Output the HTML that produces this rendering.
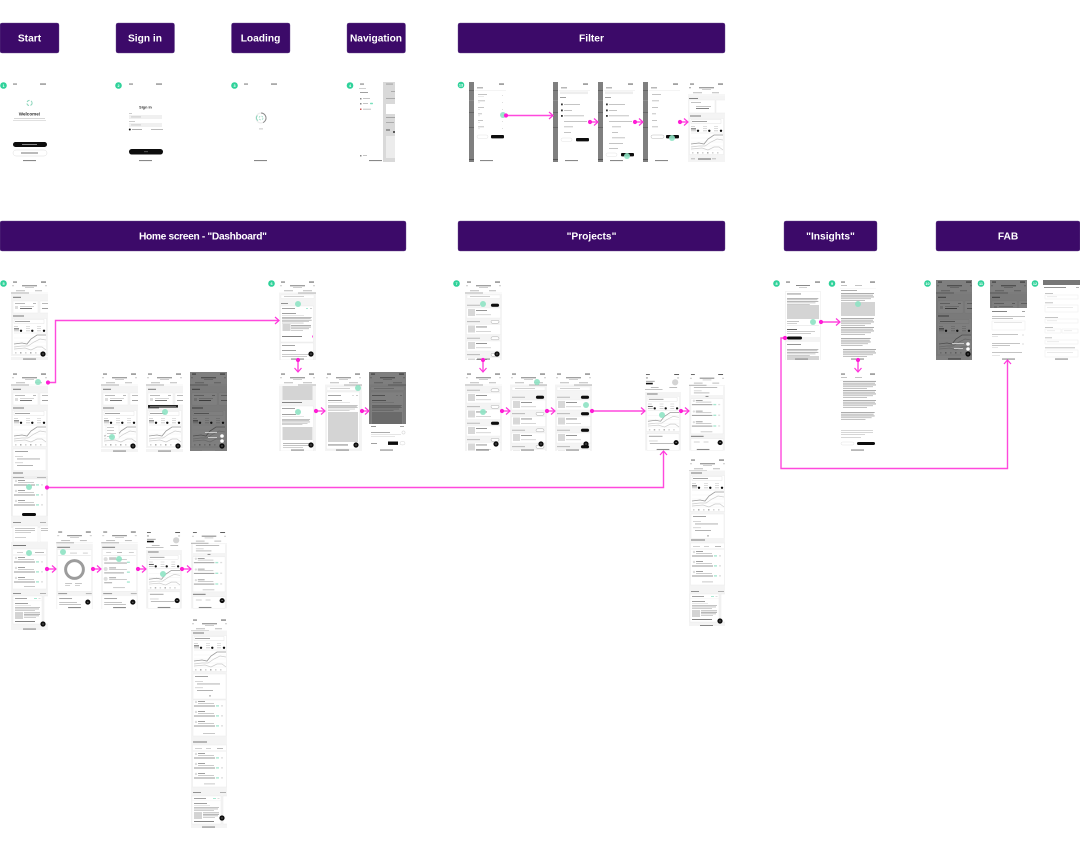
<!DOCTYPE html>
<html><head><meta charset="utf-8"><title>User flow diagram</title>
<style>html,body{margin:0;padding:0;background:#fff}svg{display:block}
text{font-family:"Liberation Sans",sans-serif}</style></head><body>
<svg xmlns="http://www.w3.org/2000/svg" width="1080" height="851" viewBox="0 0 1080 851">
<defs>
<filter id="soft" filterUnits="userSpaceOnUse" x="0" y="0" width="1080" height="851"><feGaussianBlur stdDeviation=".38"/></filter>
<filter id="softc" filterUnits="userSpaceOnUse" x="0" y="0" width="1080" height="851"><feGaussianBlur stdDeviation=".22"/></filter>
<marker id="ah" markerUnits="userSpaceOnUse" markerWidth="9" markerHeight="9" refX="6.5" refY="4.5" orient="auto-start-reverse"><path d="M2.5 1 L6.5 4.5 L2.5 8" fill="none" stroke="#ff36dc" stroke-width="1.2"/></marker>
<marker id="dot" markerUnits="userSpaceOnUse" markerWidth="6" markerHeight="6" refX="3" refY="3"><circle cx="3" cy="3" r="2.1" fill="#ff1fd6"/></marker>

<g id="hd">
<rect x="2" y="1.6" width="4" height=".9" fill="#555"/><rect x="30" y="1.6" width="5" height=".9" fill="#444"/>
<rect x="1" y="5.4" width="2" height=".8" fill="#bbb"/><rect x="34" y="5.4" width="2" height=".8" fill="#bbb"/>
<rect x="11" y="5.2" width="15" height="1.1" fill="#888"/><rect x="14" y="7.2" width="9" height=".7" fill="#bbb"/>
<rect x="5" y="10.4" width="9" height=".8" fill="#aaa"/><rect x="24" y="10.4" width="7" height=".8" fill="#aaa"/>
<rect x="0" y="12.6" width="18" height=".8" fill="#999"/><rect x="18" y="12.8" width="19" height=".4" fill="#e5e5e5"/>
</g>
<g id="hd2">
<rect x="2" y="1.6" width="4" height=".9" fill="#555"/><rect x="30" y="1.6" width="5" height=".9" fill="#444"/>
<rect x="1" y="5.4" width="2" height=".8" fill="#bbb"/><rect x="34" y="5.4" width="2" height=".8" fill="#bbb"/>
<rect x="11" y="5.2" width="15" height="1.1" fill="#888"/><rect x="14" y="7.2" width="9" height=".7" fill="#bbb"/>
<rect x="5" y="10.4" width="9" height=".8" fill="#aaa"/><rect x="24" y="10.4" width="9" height=".8" fill="#aaa"/>
<rect x="19" y="12.6" width="18" height=".8" fill="#999"/><rect x="0" y="12.8" width="19" height=".4" fill="#e5e5e5"/>
</g>
<g id="fab"><circle r="2.6" fill="#0a0a0a"/><rect x="-.8" y="-.2" width="1.6" height=".4" fill="#fff"/></g>
<rect id="ind" width="13" height="1.1" fill="#888"/>

<g id="wn">
<rect width="37" height="20" fill="#f4f4f4"/><rect x="2" y="2.8" width="8" height="1" fill="#777"/>
<rect x="2" y="7" width="25" height="12" fill="#fff" stroke="#e8e8e8" stroke-width=".4"/><rect x="29" y="7" width="10" height="12" fill="#fff" stroke="#e8e8e8" stroke-width=".4"/>
<rect x="4" y="9" width="10" height=".8" fill="#aaa"/><rect x="22" y="9" width="3" height=".7" fill="#999"/>
<rect x="9" y="12" width="14" height=".6" fill="#bbb"/><rect x="9" y="14" width="12" height="1" fill="#777"/><rect x="4" y="12" width="3" height="3" fill="#ddd"/>
<rect x="31" y="9" width="6" height=".8" fill="#aaa"/><rect x="31" y="14" width="6" height=".8" fill="#888"/>
</g>
<g id="snap">
<rect width="37" height="42" fill="#f4f4f4"/><rect x="2" y="1.5" width="11" height="1" fill="#777"/>
<rect x="1.5" y="4.5" width="34" height="36" fill="#fff" stroke="#e8e8e8" stroke-width=".4"/>
<rect x="3" y="5.5" width="30" height="4" fill="#fff" stroke="#ddd" stroke-width=".4"/><rect x="4" y="7" width="15" height=".9" fill="#999"/>
<rect x="3" y="12" width="4" height=".6" fill="#bbb"/><rect x="15" y="12" width="4" height=".6" fill="#ccc"/><rect x="26" y="12" width="4" height=".6" fill="#ccc"/>
<rect x="3" y="14.3" width="5" height="1.1" fill="#666"/><rect x="15" y="14.3" width="4" height=".7" fill="#ccc"/><rect x="26" y="14.3" width="4" height=".7" fill="#ccc"/>
<rect x="3" y="16.5" width="5" height=".7" fill="#aaa"/><rect x="15" y="16.5" width="4" height=".7" fill="#bbb"/><rect x="26" y="16.5" width="4" height=".7" fill="#bbb"/>
<circle cx="10" cy="16.8" r="1.2" fill="#111"/><circle cx="21.3" cy="16.8" r="1.2" fill="#111"/><circle cx="33" cy="16.8" r="1.2" fill="#111"/>
<path d="M3 19H35" stroke="#ddd" stroke-width=".4"/>
<g stroke="#f0f0f0" stroke-width=".4"><path d="M3 24H35M3 28H35M3 32H35M3 36H35"/></g>
<polyline points="3,30 11,29 16,30 20,25 26,21 30,21 35,21" fill="none" stroke="#999" stroke-width=".8"/>
<polyline points="3,33 11,32 17,32 23,28 29,25 35,26" fill="none" stroke="#ccc" stroke-width=".7"/>
<polyline points="3,35 14,34 20,36 26,33 31,33 35,36" fill="none" stroke="#ccc" stroke-width=".7"/>
<g fill="#aaa"><rect x="4" y="38.5" width="1.5" height=".8"/><rect x="9" y="38.5" width="1.5" height=".8" fill="#666"/><rect x="14" y="38.5" width="1.5" height=".8"/><rect x="19" y="38.5" width="1.5" height=".8" fill="#666"/><rect x="24" y="38.5" width="1.5" height=".8"/><rect x="29" y="38.5" width="1.5" height=".8"/></g>
</g>
<g id="conv">
<rect width="37" height="26" fill="#f4f4f4"/><rect x="2" y="1" width="33" height="25" fill="#fff" stroke="#e8e8e8" stroke-width=".4"/>
<rect x="4" y="3" width="13" height=".9" fill="#999"/><rect x="4" y="8" width="8" height=".6" fill="#bbb"/><rect x="6" y="10.5" width="23" height=".9" fill="#aaa"/><rect x="4" y="14.5" width="8" height=".6" fill="#bbb"/><rect x="6" y="17" width="16" height=".9" fill="#aaa"/><rect x="18" y="22.5" width="2" height=".8" fill="#888"/>
</g>
<g id="row"><circle cx="5" cy="1" r="1.2" fill="#ddd"/><rect x="7" y=".2" width="7" height=".8" fill="#888"/><rect x="7" y="2" width="16" height=".6" fill="#aaa"/><rect x="3" y="4.5" width="21" height="1" fill="#999"/><rect x="25" y="4.2" width="3" height="1.4" fill="#a9e8d2"/><rect x="30" y="4.2" width="2" height="1.3" fill="#ddd"/></g>
<g id="res">
<rect width="37" height="48" fill="#f4f4f4"/><rect x="2" y="1.5" width="14" height="1" fill="#777"/>
<rect x="1.5" y="5" width="34" height="42" fill="#fff" stroke="#e8e8e8" stroke-width=".4"/>
<rect x="4" y="8" width="7" height=".7" fill="#bbb"/><rect x="15" y="8" width="5" height=".7" fill="#bbb"/><rect x="26" y="8" width="6" height=".7" fill="#999"/><path d="M2 11H35" stroke="#ddd" stroke-width=".5"/>
<use href="#row" y="13"/><use href="#row" y="23"/><use href="#row" y="33"/><rect x="13" y="43.5" width="11" height=".8" fill="#bbb"/>
</g>
<g id="upd">
<rect x="0" y="0" width="29" height="28" fill="#fff" stroke="#e6e6e6" stroke-width=".4"/>
<rect x="2" y="2" width="12" height=".9" fill="#999"/><rect x="21" y="2" width="3" height="1" fill="#a9e8d2"/><rect x="25.5" y="2" width="2" height="1" fill="#ddd"/>
<path d="M0 4.8H29" stroke="#eee" stroke-width=".4"/>
<rect x="2" y="7" width="13" height=".8" fill="#888"/><rect x="2" y="9" width="16" height=".5" fill="#ccc"/>
<rect x="2" y="11" width="25" height=".7" fill="#aaa"/><rect x="2" y="12.6" width="24" height=".7" fill="#aaa"/><rect x="2" y="14.2" width="20" height=".7" fill="#bbb"/>
<rect x="2" y="16" width="8" height="7" fill="#d4d4d4"/><rect x="11" y="16.5" width="16" height=".7" fill="#999"/><rect x="11" y="18" width="16" height=".7" fill="#999"/><rect x="11" y="19.5" width="15" height=".7" fill="#aaa"/><rect x="11" y="21" width="12" height=".7" fill="#bbb"/>
<rect x="2" y="25" width="20" height=".9" fill="#777"/>
</g>
<g id="prow">
<rect x="2" y="-.2" width="13" height=".8" fill="#aaa"/><rect x="26" y="-1.2" width="8" height="3" rx="1.5" fill="#fff" stroke="#aaa" stroke-width=".5"/>
<rect x="1.5" y="3" width="34" height="10" fill="#fff" stroke="#eaeaea" stroke-width=".4"/><rect x="3" y="4" width="7" height="7" fill="#d8d8d8"/><rect x="11" y="5" width="11" height=".9" fill="#888"/><rect x="11" y="9.5" width="15" height=".6" fill="#bbb"/>
</g>
<rect id="pbtn" x="26" y="-1.2" width="8" height="3" rx="1.5" fill="#0a0a0a"/>
<g id="psearch"><rect y="13.5" width="37" height="7" fill="#f4f4f4"/><rect x="2" y="15" width="33" height="3.4" fill="#fff" stroke="#e4e4e4" stroke-width=".3"/><rect x="5" y="16.3" width="20" height=".7" fill="#bbb"/></g>
<g id="para"><rect width="33" height=".7" fill="#888"/><rect y="1.8" width="32" height=".7" fill="#999"/><rect y="3.6" width="33" height=".7" fill="#888"/><rect y="5.4" width="30" height=".7" fill="#aaa"/><rect y="7.2" width="24" height=".7" fill="#aaa"/></g>
<g id="flt">
<rect width="37" height="80" fill="#fff"/><rect width="5" height="80" fill="#7f7f7f"/>
<rect x="0" y="8" width="5" height=".6" fill="#555"/><rect x="0" y="18" width="5" height=".6" fill="#999"/><rect x="0" y="30" width="5" height=".6" fill="#555"/><rect x="0" y="45" width="5" height=".6" fill="#555"/><rect y="77" x="0" width="5" height="1" fill="#555"/>
<rect x="30" y="1.6" width="5" height=".9" fill="#444"/><rect x="8" y="5.4" width="6" height=".9" fill="#888"/><path d="M6 8.4H37" stroke="#e4e4e4" stroke-width=".4"/>
</g>

<symbol id="s-home" viewBox="0 0 37 80"><rect width="37" height="80" fill="#fff"/><use href="#hd"/><use href="#wn" y="14"/><use href="#snap" y="34"/><use href="#fab" x="32" y="74"/><rect x="0" y="77" width="37" height="3" fill="#f4f4f4"/><use href="#ind" x="12" y="78.5"/></symbol>

<symbol id="s-long" viewBox="0 0 37 258">
<rect width="37" height="258" fill="#fff"/><use href="#hd"/><use href="#wn" y="14"/><use href="#snap" y="34"/><use href="#conv" y="76"/>
<rect y="98" width="37" height="58" fill="#f4f4f4"/><rect x="2" y="100.5" width="10" height="1" fill="#777"/><rect x="0" y="104" width="37" height="40" fill="#eee"/><rect x="2" y="105" width="11" height=".8" fill="#999"/><rect x="26" y="105" width="9" height=".8" fill="#aaa"/>
<rect x="1.5" y="107" width="34" height="37" fill="#fff" stroke="#e8e8e8" stroke-width=".4"/><use href="#row" y="108"/><use href="#row" y="118"/><use href="#row" y="128"/>
<rect x="11" y="141" width="14" height="3" rx="1.5" fill="#0a0a0a"/>
<rect x="2" y="150" width="8" height=".9" fill="#888"/><rect x="29" y="150" width="6" height=".9" fill="#aaa"/>
<rect x="2" y="154" width="25" height="16" fill="#fff" stroke="#e6e6e6" stroke-width=".4"/><rect x="4" y="156" width="20" height=".7" fill="#aaa"/><rect x="4" y="158" width="20" height=".7" fill="#aaa"/><rect x="4" y="160" width="16" height=".7" fill="#bbb"/><rect x="4" y="165" width="11" height=".7" fill="#bbb"/>
<rect x="29" y="154" width="10" height="16" fill="#fff" stroke="#e6e6e6" stroke-width=".4"/><rect x="30" y="156" width="7" height=".7" fill="#aaa"/><rect x="30" y="158" width="7" height=".7" fill="#aaa"/>
<rect y="170" width="37" height="88" fill="#f4f4f4"/>
<rect x="2" y="173" width="13" height="1" fill="#777"/><rect x="1.5" y="177" width="34" height="40" fill="#fff" stroke="#e8e8e8" stroke-width=".4"/>
<rect x="6" y="180" width="6" height=".7" fill="#bbb"/><rect x="24" y="180" width="9" height=".7" fill="#999"/><path d="M2 183H35" stroke="#ddd" stroke-width=".5"/><use href="#row" y="185"/><use href="#row" y="195"/><use href="#row" y="205"/><rect x="13" y="214" width="11" height=".8" fill="#bbb"/>
<rect x="2" y="221" width="8" height=".9" fill="#888"/><rect x="29" y="221" width="6" height=".9" fill="#aaa"/>
<use href="#upd" x="2" y="224"/><rect x="33" y="224" width="6" height="28" fill="#fff" stroke="#e6e6e6" stroke-width=".4"/>
<use href="#fab" x="32" y="252"/><use href="#ind" x="12" y="256.5"/>
</symbol>

<symbol id="s-ring" viewBox="0 0 37 80"><rect width="37" height="80" fill="#fff"/><use href="#hd"/><rect y="14" width="37" height="66" fill="#f4f4f4"/><rect x="1" y="17" width="13" height="1" fill="#777"/><rect x="1" y="20" width="35" height="42" fill="#fff" stroke="#e8e8e8" stroke-width=".4"/>
<rect x="14" y="23" width="7" height=".7" fill="#bbb"/><rect x="27" y="23" width="5" height=".7" fill="#bbb"/><path d="M2 26H35" stroke="#ddd" stroke-width=".5"/>
<circle cx="18.5" cy="40" r="9" fill="none" stroke="#9c9c9c" stroke-width="3"/><rect x="9" y="54" width="7" height=".7" fill="#aaa"/><rect x="19" y="54" width="7" height=".7" fill="#aaa"/><rect x="9" y="56" width="5" height=".7" fill="#bbb"/><rect x="19" y="56" width="5" height=".7" fill="#bbb"/>
<rect x="2" y="64" width="9" height=".9" fill="#888"/><rect x="30" y="64" width="6" height=".9" fill="#aaa"/><rect x="1" y="67" width="35" height="13" fill="#fff"/><rect x="3" y="69" width="13" height=".9" fill="#999"/><rect x="3" y="73" width="18" height=".7" fill="#aaa"/><rect x="3" y="75" width="22" height=".7" fill="#aaa"/><use href="#fab" x="32" y="73"/><use href="#ind" x="12" y="78"/></symbol>

<symbol id="s-rows" viewBox="0 0 37 80"><rect width="37" height="80" fill="#fff"/><use href="#hd"/><rect y="14" width="37" height="66" fill="#f4f4f4"/><rect x="1" y="17" width="13" height="1" fill="#777"/><rect x="1" y="20" width="35" height="42" fill="#fff" stroke="#e8e8e8" stroke-width=".4"/>
<rect x="5" y="22.5" width="5" height=".7" fill="#bbb"/><rect x="16" y="22.5" width="5" height=".7" fill="#999"/><rect x="28" y="22.5" width="5" height=".7" fill="#bbb"/><path d="M2 26H35" stroke="#ddd" stroke-width=".5"/>
<g transform="translate(0,28)"><circle cx="4.5" cy="1.5" r="2" fill="#ddd"/><rect x="8" y="0" width="7" height=".8" fill="#888"/><rect x="8" y="1.8" width="18" height=".6" fill="#aaa"/><rect x="3" y="5" width="23" height=".9" fill="#999"/><rect x="26" y="4" width="3" height="1.4" fill="#a9e8d2"/></g>
<g transform="translate(0,38)"><circle cx="4.5" cy="1.5" r="2" fill="#ddd"/><rect x="8" y="0" width="7" height=".8" fill="#888"/><rect x="8" y="1.8" width="18" height=".6" fill="#aaa"/><rect x="3" y="5" width="20" height=".9" fill="#999"/><rect x="26" y="4" width="3" height="1.4" fill="#a9e8d2"/></g>
<g transform="translate(0,48)"><circle cx="4.5" cy="1.5" r="2" fill="#ddd"/><rect x="8" y="0" width="7" height=".8" fill="#888"/><rect x="8" y="1.8" width="18" height=".6" fill="#aaa"/><rect x="3" y="5" width="8" height=".9" fill="#999"/><rect x="26" y="4" width="3" height="1.4" fill="#a9e8d2"/></g>
<rect x="12" y="58" width="12" height=".8" fill="#bbb"/>
<rect x="2" y="64" width="9" height=".9" fill="#888"/><rect x="30" y="64" width="6" height=".9" fill="#aaa"/><rect x="1" y="67" width="35" height="13" fill="#fff"/><rect x="3" y="69" width="13" height=".9" fill="#999"/><rect x="3" y="73" width="18" height=".7" fill="#aaa"/><rect x="3" y="75" width="22" height=".7" fill="#aaa"/><use href="#fab" x="32" y="73"/><use href="#ind" x="12" y="78"/></symbol>

<symbol id="s-prof" viewBox="0 0 37 80"><rect width="37" height="80" fill="#fff"/><rect x="1" y="1.6" width="4" height=".9" fill="#555"/><rect x="30" y="1.6" width="5" height=".9" fill="#444"/><rect x="1" y="5" width="2" height="1" fill="#888"/><rect x="33" y="5" width="2" height="1" fill="#bbb"/>
<rect x="1" y="8.5" width="9" height=".9" fill="#999"/><rect x="1" y="10.5" width="7" height="1.6" fill="#0a0a0a"/><circle cx="31" cy="10" r="3.2" fill="#d4d4d4"/>
<rect x="6" y="15" width="8" height=".8" fill="#aaa"/><rect x="25" y="15" width="8" height=".8" fill="#aaa"/><rect x="0" y="17" width="18" height=".6" fill="#999"/>
<use href="#snap" y="20"/><rect y="62" width="37" height="18" fill="#f4f4f4"/><rect x="2" y="63" width="33" height="17" fill="#fff" stroke="#e8e8e8" stroke-width=".4"/><rect x="4" y="65" width="14" height=".9" fill="#999"/><rect x="4" y="70" width="9" height=".6" fill="#bbb"/><rect x="5" y="72.5" width="24" height=".8" fill="#aaa"/><use href="#fab" x="32" y="72"/><use href="#ind" x="12" y="78.5"/></symbol>

<symbol id="s-cont" viewBox="0 0 37 80"><rect width="37" height="80" fill="#fff"/><use href="#hd"/><rect y="14" width="37" height="66" fill="#f4f4f4"/><rect x="2" y="14" width="33" height="9" fill="#fff"/><rect x="5" y="15" width="24" height=".8" fill="#aaa"/><rect x="5" y="18.5" width="8" height=".6" fill="#bbb"/><rect x="5" y="20.5" width="16" height=".8" fill="#aaa"/><rect x="17" y="24" width="3" height="1" fill="#888"/>
<rect x="2" y="27" width="33" height="36" fill="#fff" stroke="#e8e8e8" stroke-width=".4"/><use href="#row" y="28"/><use href="#row" y="39"/><use href="#row" y="50"/><rect x="12" y="60.5" width="12" height=".8" fill="#bbb"/>
<rect x="2" y="65" width="13" height="1" fill="#777"/><rect x="2" y="68" width="33" height="12" fill="#fff" stroke="#e8e8e8" stroke-width=".4"/><rect x="5" y="71" width="6" height=".7" fill="#bbb"/><rect x="15" y="71" width="5" height=".7" fill="#bbb"/><use href="#fab" x="32" y="72"/><use href="#ind" x="8" y="78.5"/></symbol>

<symbol id="s-upd1" viewBox="0 0 37 80"><rect width="37" height="80" fill="#fff"/><use href="#hd2"/><rect y="14" width="37" height="66" fill="#f4f4f4"/><use href="#psearch"/><rect x="2" y="23" width="7" height=".9" fill="#888"/><rect x="1.5" y="26" width="33" height="36" fill="#fff" stroke="#e6e6e6" stroke-width=".4"/>
<rect x="3" y="28" width="13" height=".9" fill="#999"/><rect x="27" y="28" width="2" height="1" fill="#a9e8d2"/><rect x="31" y="28" width="2" height="1" fill="#ccc"/><rect x="3" y="33" width="14" height=".8" fill="#888"/><rect x="3" y="35" width="22" height=".5" fill="#ccc"/>
<use href="#para" transform="translate(3,37) scale(.9,.8)"/>
<rect x="3.5" y="44" width="8" height="7" fill="#d4d4d4"/><rect x="12" y="45" width="20" height=".7" fill="#888"/><rect x="12" y="46.7" width="20" height=".7" fill="#999"/><rect x="12" y="48.4" width="18" height=".7" fill="#aaa"/><rect x="12" y="50" width="12" height=".7" fill="#bbb"/>
<rect x="3" y="56" width="20" height=".9" fill="#777"/><rect x="33" y="55.5" width="1" height="2" fill="#ff5fe0"/>
<rect x="1.5" y="63" width="33" height="17" fill="#fff" stroke="#e6e6e6" stroke-width=".4"/><rect x="3" y="65" width="13" height=".9" fill="#999"/><rect x="3" y="70" width="14" height=".8" fill="#888"/><rect x="3" y="74" width="28" height=".6" fill="#aaa"/><rect x="3" y="76" width="25" height=".6" fill="#aaa"/><use href="#fab" x="32" y="74"/><use href="#ind" x="12" y="78.5"/></symbol>

<symbol id="s-upd2" viewBox="0 0 37 79"><rect width="37" height="79" fill="#fff"/><use href="#hd2"/><rect y="14" width="37" height="65" fill="#f4f4f4"/><rect x="3.5" y="14" width="30" height="14" fill="#d4d4d4"/><rect x="3" y="30" width="20" height=".9" fill="#777"/><rect x="1.5" y="34" width="33" height="45" fill="#fff" stroke="#e6e6e6" stroke-width=".4"/><rect x="3" y="36" width="13" height=".9" fill="#999"/><rect x="3" y="42" width="14" height=".8" fill="#888"/><rect x="3" y="44" width="22" height=".5" fill="#ccc"/><use href="#para" transform="translate(3,47) scale(.85,.75)"/><rect x="3.5" y="55" width="30" height="13" fill="#d4d4d4"/><rect x="4" y="71" width="26" height=".7" fill="#999"/><rect x="4" y="73" width="26" height=".7" fill="#aaa"/><rect x="4" y="75" width="20" height=".7" fill="#bbb"/><use href="#fab" x="32" y="73"/><use href="#ind" x="12" y="77.5"/></symbol>

<symbol id="s-upd3" viewBox="0 0 37 79"><rect width="37" height="79" fill="#fff"/><use href="#hd2"/><rect y="14" width="37" height="65" fill="#f4f4f4"/><use href="#psearch"/><rect x="1.5" y="20" width="33" height="57" fill="#fff" stroke="#e6e6e6" stroke-width=".4"/><rect x="3" y="23" width="13" height=".9" fill="#999"/><rect x="27" y="23" width="2" height="1" fill="#ddd"/><rect x="31" y="23" width="2" height="1" fill="#ccc"/><rect x="3" y="28" width="14" height=".8" fill="#888"/><rect x="3" y="30" width="22" height=".5" fill="#ccc"/><use href="#para" transform="translate(3,33) scale(.9,.7)"/>
<rect x="3" y="40" width="30" height="30" fill="#d4d4d4"/><rect x="3" y="72.5" width="20" height=".9" fill="#777"/><use href="#fab" x="31" y="73"/><use href="#ind" x="11" y="77.5"/></symbol>

<symbol id="s-upddark" viewBox="0 0 37 79"><use href="#s-upd3" width="37" height="79"/><rect width="37" height="52" fill="#000" opacity=".5"/><rect y="52" width="37" height="27" fill="#fff"/><rect x="2" y="54" width="5" height=".9" fill="#888"/><rect x="31" y="54" width="4" height=".9" fill="#999"/><rect x="2" y="60" width="19" height=".7" fill="#888"/><rect x="33" y="59" width="3" height="3" rx="1" fill="#fff" stroke="#ccc" stroke-width=".5"/><rect x="2" y="62.5" width="30" height=".5" fill="#ccc"/><rect x="2" y="64.5" width="24" height=".5" fill="#ccc"/><rect x="2" y="71" width="6" height=".8" fill="#888"/><rect x="19" y="69.5" width="10" height="3.4" fill="#0a0a0a"/><rect x="31" y="69.5" width="5" height="3.4" rx="1.7" fill="#fff" stroke="#ccc" stroke-width=".4"/><use href="#ind" x="11" y="77.5"/></symbol>

<symbol id="s-dark" viewBox="0 0 37 79"><rect width="37" height="79" fill="#fff"/><use href="#hd"/><use href="#wn" y="14"/><use href="#snap" y="34"/><rect width="37" height="79" fill="#000" opacity=".5"/><rect x="15" y="60" width="12" height=".8" fill="#ddd"/><rect x="18" y="65" width="9" height=".8" fill="#ddd"/><circle cx="32" cy="64" r="1.8" fill="#fff"/><circle cx="32" cy="69" r="1.8" fill="#fff"/><use href="#fab" x="32" y="74"/><use href="#ind" x="12" y="78"/></symbol>

<symbol id="s-proj" viewBox="0 0 37 80"><rect width="37" height="80" fill="#fff"/><use href="#hd"/><rect y="14" width="37" height="66" fill="#f4f4f4"/><rect x="2" y="15" width="33" height="3.4" fill="#fff" stroke="#e4e4e4" stroke-width=".3"/><rect x="5" y="16.3" width="20" height=".7" fill="#bbb"/>
<use href="#prow" x="0" y="25"/><use href="#pbtn" y="25"/><use href="#prow" y="41.5"/><use href="#prow" y="58"/><use href="#prow" y="74.5"/><use href="#fab" x="32" y="74"/><use href="#ind" x="12" y="78.5"/></symbol>
<symbol id="s-proj2" viewBox="0 0 37 79"><rect width="37" height="79" fill="#fff"/><use href="#hd"/><rect y="14" width="37" height="65" fill="#f4f4f4"/><use href="#prow" y="18"/><use href="#prow" y="34.5"/><use href="#prow" y="51"/><use href="#pbtn" y="51"/><use href="#prow" y="67.5"/><use href="#fab" x="31" y="72"/><use href="#ind" x="11" y="77.5"/></symbol>
<symbol id="s-proj3" viewBox="0 0 37 79"><rect width="37" height="79" fill="#fff"/><use href="#hd2"/><rect y="14" width="37" height="65" fill="#f4f4f4"/><use href="#psearch"/><use href="#prow" y="25"/><use href="#pbtn" y="25"/><use href="#prow" y="41.5"/><use href="#prow" y="58"/><use href="#prow" y="74.5"/><use href="#fab" x="31" y="72"/><use href="#ind" x="11" y="77.5"/></symbol>
<symbol id="s-proj4" viewBox="0 0 37 79"><rect width="37" height="79" fill="#fff"/><use href="#hd2"/><rect y="14" width="37" height="65" fill="#f4f4f4"/><use href="#psearch"/><use href="#prow" y="25"/><use href="#pbtn" y="25"/><use href="#prow" y="41.5"/><use href="#pbtn" y="41.5"/><use href="#prow" y="58"/><use href="#pbtn" y="58"/><use href="#prow" y="74.5"/><use href="#pbtn" y="74.5"/><use href="#fab" x="31" y="72"/><use href="#ind" x="11" y="77.5"/></symbol>

<symbol id="s-long2" viewBox="0 0 36 168"><rect width="36" height="168" fill="#fff"/><use href="#hd"/><rect y="14" width="36" height="154" fill="#f4f4f4"/><use href="#snap" y="13"/><use href="#conv" y="55"/><use href="#res" y="80"/>
<rect x="2" y="133" width="8" height=".9" fill="#888"/><rect x="29" y="133" width="6" height=".9" fill="#aaa"/><use href="#upd" x="1" y="136"/><rect x="32" y="136" width="6" height="28" fill="#fff" stroke="#e6e6e6" stroke-width=".4"/><use href="#fab" x="31" y="163"/><use href="#ind" x="11" y="167"/></symbol>
<symbol id="s-long3" viewBox="0 0 36 210"><rect width="36" height="210" fill="#fff"/><use href="#hd"/><rect y="14" width="36" height="196" fill="#f4f4f4"/><use href="#snap" y="13"/><use href="#conv" y="55"/>
<rect x="2" y="82" width="33" height="36" fill="#fff" stroke="#e8e8e8" stroke-width=".4"/><use href="#row" y="83"/><use href="#row" y="93"/><use href="#row" y="103"/><rect x="12" y="115" width="12" height=".8" fill="#bbb"/><use href="#res" y="122"/>
<rect x="2" y="174" width="8" height=".9" fill="#888"/><rect x="29" y="174" width="6" height=".9" fill="#aaa"/><use href="#upd" x="1" y="178"/><rect x="32" y="178" width="6" height="28" fill="#fff" stroke="#e6e6e6" stroke-width=".4"/><use href="#fab" x="31" y="200"/><use href="#ind" x="11" y="208.5"/></symbol>

<symbol id="s-ins1" viewBox="0 0 36 80"><rect width="36" height="80" fill="#fff"/><rect x="1" y="1.6" width="4" height=".9" fill="#555"/><rect x="30" y="1.6" width="5" height=".9" fill="#444"/><rect x="11" y="5" width="14" height="1" fill="#888"/><rect x="14" y="7" width="8" height=".7" fill="#bbb"/>
<rect y="11" width="36" height="69" fill="#f4f4f4"/><rect x="1" y="12" width="34" height="45" fill="#fff"/><rect x="2" y="13.5" width="14" height=".9" fill="#888"/><use href="#para" transform="translate(2,18) scale(.95,.85)"/><rect x="2" y="25" width="32" height="14" fill="#d4d4d4"/><rect x="2" y="41" width="12" height=".7" fill="#aaa"/><rect x="2" y="43" width="10" height=".7" fill="#bbb"/><rect x="2" y="45.5" width="32" height=".5" fill="#ddd"/><rect x="2" y="49" width="10" height=".9" fill="#555"/><rect x="2" y="51" width="28" height=".6" fill="#aaa"/><rect x="2" y="53" width="24" height=".6" fill="#aaa"/>
<rect x="2" y="56.5" width="15" height="3" rx="1.5" fill="#0a0a0a"/><rect x="1" y="62" width="34" height="18" fill="#fff"/><rect x="2" y="64" width="14" height=".9" fill="#888"/><use href="#para" transform="translate(2,69) scale(.95,.85)"/><rect x="2" y="76" width="32" height="4" fill="#d4d4d4"/><use href="#ind" x="10" y="78.5"/></symbol>
<symbol id="s-ins2" viewBox="0 0 36 80"><rect width="36" height="80" fill="#fff"/><rect x="1" y="1.6" width="4" height=".9" fill="#555"/><rect x="30" y="1.6" width="5" height=".9" fill="#444"/><rect x="1" y="5" width="6" height=".7" fill="#aaa"/><rect x="15" y="5" width="7" height=".7" fill="#aaa"/><rect y="8" width="36" height=".4" fill="#eee"/><rect x="1" y="10" width="16" height=".8" fill="#999"/><use href="#para" transform="translate(1,13)"/><rect x="1" y="22" width="34" height="14" fill="#d4d4d4"/><use href="#para" transform="translate(1,38)"/><use href="#para" transform="translate(1,47)"/><use href="#para" transform="translate(1,58) scale(.9,1)"/><use href="#para" transform="translate(3,69)"/><use href="#ind" x="11" y="78.5"/></symbol>
<symbol id="s-ins3" viewBox="0 0 36 79"><rect width="36" height="79" fill="#fff"/><rect x="1" y="1.6" width="4" height=".9" fill="#555"/><rect x="30" y="1.6" width="5" height=".9" fill="#444"/><rect x="1" y="5" width="6" height=".7" fill="#aaa"/><rect x="15" y="5" width="7" height=".7" fill="#aaa"/><rect y="8" width="36" height=".4" fill="#eee"/>
<use href="#para" transform="translate(3,9)"/><use href="#para" transform="translate(3,18)"/><use href="#para" transform="translate(3,28)"/><use href="#para" transform="translate(1,40) scale(1.02,1)"/><rect x="1" y="58" width="32" height=".6" fill="#bbb"/><rect x="1" y="60" width="32" height=".6" fill="#bbb"/><rect x="1" y="62" width="24" height=".6" fill="#bbb"/><rect x="1" y="65" width="20" height=".6" fill="#bbb"/><rect x="1" y="70" width="13" height="3" rx="1.5" fill="#fff" stroke="#ddd" stroke-width=".4"/><rect x="17" y="70" width="18" height="3" rx="1.5" fill="#0a0a0a"/><use href="#ind" x="11" y="77.5"/></symbol>

<symbol id="s-fab1" viewBox="0 0 36 80"><rect width="36" height="80" fill="#fff"/><use href="#hd"/><use href="#wn" y="14"/><use href="#snap" y="34"/><rect width="36" height="80" fill="#000" opacity=".5"/><rect x="16" y="63" width="12" height=".8" fill="#ddd"/><rect x="18" y="68" width="9" height=".8" fill="#ddd"/><circle cx="32" cy="64" r="1.8" fill="#fff"/><circle cx="32" cy="69" r="1.8" fill="#fff"/><use href="#fab" x="32" y="74"/><rect x="12" y="78.5" width="13" height=".9" fill="#333"/></symbol>
<symbol id="s-fab2" viewBox="0 0 37 80"><rect width="37" height="80" fill="#fff"/><use href="#hd"/><use href="#wn" y="14"/><rect width="37" height="28" fill="#000" opacity=".5"/><rect y="28" width="37" height="52" fill="#fff"/><rect x="2" y="31" width="15" height=".9" fill="#777"/><rect x="32" y="31" width="3" height=".9" fill="#999"/><rect x="2" y="36" width="33" height=".7" fill="#aaa"/><rect x="2" y="38" width="21" height=".7" fill="#aaa"/><rect x="2" y="41" width="33" height="9" fill="#fff" stroke="#e8e8e8" stroke-width=".4"/><rect x="4" y="42" width="28" height=".5" fill="#ccc"/><rect x="2" y="54" width="26" height=".7" fill="#aaa"/><rect x="2" y="56" width="6" height=".5" fill="#ccc"/><rect x="32" y="54" width="2" height="2" fill="#eee"/><rect x="2" y="63" width="28" height=".7" fill="#aaa"/><rect x="2" y="65" width="18" height=".7" fill="#aaa"/><rect x="2" y="67" width="6" height=".5" fill="#ccc"/><rect x="32" y="63" width="2" height="2" fill="#eee"/><rect x="2" y="72" width="30" height=".7" fill="#aaa"/><rect x="2" y="75" width="8" height=".5" fill="#ccc"/><use href="#ind" x="12" y="78.5"/></symbol>
<symbol id="s-fab3" viewBox="0 0 37 80"><rect width="37" height="80" fill="#fff"/><rect width="37" height="5" fill="#777"/><rect x="1" y="7" width="22" height=".9" fill="#888"/><rect x="33" y="7" width="3" height=".9" fill="#aaa"/><g fill="none" stroke="#e8e8e8" stroke-width=".4"><rect x="2" y="15" width="33" height="4"/><rect x="2" y="25" width="33" height="7"/><rect x="2" y="39" width="33" height="4"/><rect x="2" y="49" width="16" height="4"/><rect x="19" y="49" width="16" height="4"/><rect x="2" y="60" width="33" height="4"/><rect x="2" y="70" width="33" height="7"/></g><g fill="#aaa"><rect x="2" y="13" width="8" height=".7"/><rect x="2" y="22.5" width="8" height=".7"/><rect x="2" y="37" width="13" height=".7"/><rect x="2" y="47" width="8" height=".7"/><rect x="2" y="57.5" width="7" height=".7"/><rect x="2" y="67.5" width="30" height=".7"/></g><g fill="#ddd"><rect x="4" y="16.5" width="10" height=".6"/><rect x="4" y="27" width="26" height=".6"/><rect x="4" y="40.5" width="10" height=".6"/><rect x="4" y="50.5" width="8" height=".6"/><rect x="21" y="50.5" width="8" height=".6"/><rect x="4" y="61.5" width="12" height=".6"/><rect x="4" y="72" width="26" height=".6"/></g><use href="#ind" x="12" y="78.5"/></symbol>

<symbol id="s-start" viewBox="0 0 37 80"><rect width="37" height="80" fill="#fff"/><rect x="2" y="1.6" width="4" height=".9" fill="#666"/><rect x="29" y="1.6" width="6" height=".9" fill="#555"/><circle cx="18.5" cy="21" r="2.6" fill="none" stroke="#8ed6bc" stroke-width="1" stroke-dasharray="3 1.5"/><text x="18.5" y="33.5" text-anchor="middle" font-size="4.6" font-weight="bold" fill="#333">Welcome!</text><rect x="3" y="36" width="31" height=".6" fill="#bbb"/><rect x="2" y="38" width="33" height=".6" fill="#ccc"/><rect x="2" y="60" width="34" height="5" rx="2.5" fill="#0a0a0a"/><rect x="11" y="62" width="15" height="1" fill="#888"/><rect x="2" y="68" width="34" height="6" rx="3" fill="#fff" stroke="#ddd" stroke-width=".5"/><rect x="10" y="70.5" width="17" height="1" fill="#777"/><use href="#ind" x="12" y="78"/></symbol>
<symbol id="s-sign" viewBox="0 0 37 80"><rect width="37" height="80" fill="#fff"/><rect x="2" y="1.6" width="4" height=".9" fill="#666"/><rect x="29" y="1.6" width="6" height=".9" fill="#555"/><text x="18.5" y="26.5" text-anchor="middle" font-size="3.8" font-weight="bold" fill="#333">Sign in</text><rect x="2" y="31" width="3" height=".6" fill="#aaa"/><rect x="2" y="33" width="33" height="4" fill="#f0f0f0"/><rect x="4" y="34.6" width="10" height=".7" fill="#bbb"/><rect x="2" y="39" width="6" height=".6" fill="#aaa"/><rect x="2" y="41" width="33" height="4" fill="#f0f0f0"/><rect x="4" y="42.6" width="10" height=".7" fill="#bbb"/><circle cx="2.8" cy="47.5" r="1" fill="#111"/><rect x="5" y="47" width="10" height=".8" fill="#999"/><rect x="24" y="47" width="12" height=".8" fill="#aaa"/><rect x="2" y="67" width="34" height="5.5" rx="2.7" fill="#0a0a0a"/><rect x="17" y="69.5" width="4" height=".6" fill="#888"/><use href="#ind" x="12" y="78"/></symbol>
<symbol id="s-load" viewBox="0 0 37 80"><rect width="37" height="80" fill="#fff"/><rect x="2" y="1.6" width="4" height=".9" fill="#666"/><rect x="29" y="1.6" width="6" height=".9" fill="#555"/><circle cx="19" cy="36" r="5" fill="none" stroke="#ececec" stroke-width="1"/><path d="M19 31 A5 5 0 0 1 21 40.6" fill="none" stroke="#888" stroke-width="1"/><path d="M16 38.5 A3 3 0 0 1 15.5 33.5" fill="none" stroke="#8ed6bc" stroke-width="1"/><circle cx="19" cy="36" r="2" fill="none" stroke="#8ed6bc" stroke-width=".7" stroke-dasharray="2 1.2"/><rect x="17" y="46.5" width="4" height=".8" fill="#bbb"/><use href="#ind" x="12" y="78"/></symbol>
<symbol id="s-nav" viewBox="0 0 37 80"><rect width="37" height="80" fill="#fff"/><rect x="2" y="1.6" width="4" height=".9" fill="#666"/><rect x="1" y="6" width="7" height=".7" fill="#bbb"/><rect x="2" y="10" width="8" height=".8" fill="#888"/><rect x="2" y="16" width="1.5" height="1.5" fill="#888"/><rect x="5" y="16.3" width="7" height=".7" fill="#aaa"/><rect x="2" y="21" width="1.5" height="1.5" fill="#888"/><rect x="5" y="21.3" width="5" height=".7" fill="#aaa"/><rect x="12" y="20.8" width="3" height="1.5" rx=".7" fill="#7be0bd"/><rect x="2" y="26.5" width="1.5" height="1.5" fill="#c55"/><rect x="5" y="26.8" width="8" height=".7" fill="#aaa"/><rect x="2" y="73" width="1.5" height="1.5" fill="#888"/><rect x="5" y="73.3" width="4" height=".7" fill="#aaa"/>
<rect x="25" width="12" height="80" fill="#d9d9d9"/><g fill="#999"><rect x="28" y="1.6" width="7" height=".9"/><rect x="33" y="9" width="4" height=".7"/><rect x="28" y="16" width="9" height=".7"/><rect x="28" y="35" width="9" height=".8"/><rect x="28" y="40" width="8" height=".7"/><rect x="28" y="47" width="4" height="2"/></g><g fill="#fff"><rect x="28" y="22" width="9" height="10"/><rect x="28" y="54" width="9" height="22" opacity=".5"/></g><circle cx="36" cy="50" r="1" fill="#333"/><use href="#ind" x="11" y="78"/></symbol>

<symbol id="f1" viewBox="0 0 37 80"><use href="#flt"/><g fill="#aaa"><rect x="9" y="12" width="9" height=".7"/><rect x="9" y="18.5" width="7" height=".7"/><rect x="9" y="25" width="6" height=".7"/><rect x="9" y="31.5" width="4" height=".7"/><rect x="9" y="38" width="5" height=".7"/><rect x="9" y="44.5" width="6" height=".7"/></g><g fill="#ddd"><rect x="9" y="14" width="6" height=".6"/><rect x="9" y="20.5" width="2" height=".6"/><rect x="9" y="27" width="2" height=".6"/><rect x="9" y="33.5" width="2" height=".6"/><rect x="9" y="40" width="2" height=".6"/><rect x="9" y="46.5" width="2" height=".6"/><rect x="33" y="13" width="1" height="1"/><rect x="33" y="20" width="1" height="1"/><rect x="33" y="27" width="1" height="1"/><rect x="33" y="39" width="1" height="1"/><rect x="33" y="46" width="1" height="1"/></g><rect x="8" y="53" width="11" height="3.4" rx="1.7" fill="#fff" stroke="#ddd" stroke-width=".4"/><rect x="22" y="53" width="13" height="3.4" rx="1" fill="#0a0a0a"/><use href="#ind" x="11" y="78"/></symbol>
<symbol id="f2" viewBox="0 0 37 80"><use href="#flt"/><rect x="7" y="9.5" width="28" height="2.6" fill="#eee"/><rect x="7" y="15" width="6" height=".7" fill="#777"/><g fill="#333"><rect x="8" y="21.5" width="1.8" height="1.8"/><rect x="8" y="27.5" width="1.8" height="1.8"/><rect x="8" y="33" width="1.8" height="1.8"/></g><g fill="#aaa"><rect x="11" y="22" width="16" height=".7"/><rect x="11" y="28" width="8" height=".7"/><rect x="11" y="33.5" width="20" height=".7"/><rect x="11" y="39" width="23" height=".7"/><rect x="11" y="44.5" width="9" height=".7"/><rect x="11" y="50" width="7" height=".7"/></g><rect x="8" y="56" width="11" height="3.4" rx="1.7" fill="#fff" stroke="#ddd" stroke-width=".4"/><rect x="23" y="56" width="13" height="3.4" rx="1" fill="#0a0a0a"/><use href="#ind" x="12" y="78"/></symbol>
<symbol id="f3" viewBox="0 0 37 80"><use href="#flt"/><rect x="7" y="9.5" width="28" height="2.6" fill="#eee"/><rect x="7" y="15" width="6" height=".7" fill="#777"/><g fill="#333"><rect x="8" y="21.5" width="1.8" height="1.8"/><rect x="8" y="27.5" width="1.8" height="1.8"/><rect x="8" y="33" width="1.8" height="1.8"/></g><g fill="#aaa"><rect x="11" y="22" width="16" height=".7"/><rect x="11" y="28" width="8" height=".7"/><rect x="11" y="33.5" width="20" height=".7"/><rect x="11" y="39" width="23" height=".7"/><rect x="14" y="44.5" width="9" height=".7"/><rect x="14" y="50" width="6" height=".7"/><rect x="14" y="55.5" width="13" height=".7"/><rect x="11" y="61" width="14" height=".7"/><rect x="11" y="66" width="9" height=".7"/></g><rect x="8" y="71" width="11" height="3.4" rx="1.7" fill="#fff" stroke="#ddd" stroke-width=".4"/><rect x="23" y="71" width="13" height="3.4" rx="1" fill="#0a0a0a"/><use href="#ind" x="12" y="78"/></symbol>
<symbol id="f4" viewBox="0 0 37 80"><use href="#flt"/><g fill="#aaa"><rect x="9" y="12" width="9" height=".7"/><rect x="9" y="18.5" width="7" height=".7"/><rect x="9" y="25" width="6" height=".7"/><rect x="9" y="31.5" width="4" height=".7"/><rect x="9" y="38" width="5" height=".7"/><rect x="9" y="44.5" width="6" height=".7"/></g><rect x="8" y="53" width="13" height="3.4" rx="1.7" fill="#fff" stroke="#aaa" stroke-width=".4"/><rect x="23" y="53" width="13" height="3.4" rx="1" fill="#0a0a0a"/><use href="#ind" x="12" y="78"/></symbol>
<symbol id="f5" viewBox="0 0 37 80"><rect width="37" height="80" fill="#fff"/><rect x="2" y="1.6" width="4" height=".9" fill="#555"/><rect x="30" y="1.6" width="5" height=".9" fill="#444"/><rect x="1" y="5.4" width="2" height=".8" fill="#888"/><rect x="11" y="5.2" width="15" height="1.1" fill="#888"/><rect x="14" y="7.2" width="9" height=".7" fill="#bbb"/><rect x="5" y="10.4" width="9" height=".8" fill="#aaa"/><rect x="24" y="10.4" width="7" height=".8" fill="#aaa"/><path d="M0 13H37" stroke="#ddd" stroke-width=".5"/><rect y="14" width="37" height="66" fill="#f4f4f4"/><rect x="1" y="16" width="9" height=".9" fill="#777"/><rect x="1" y="18" width="26" height="13" fill="#fff" stroke="#e8e8e8" stroke-width=".4"/><rect x="28" y="18" width="10" height="13" fill="#fff" stroke="#e8e8e8" stroke-width=".4"/><rect x="3" y="20" width="10" height=".7" fill="#aaa"/><rect x="8" y="24" width="15" height=".7" fill="#aaa"/><rect x="8" y="26" width="13" height=".9" fill="#777"/><use href="#snap" y="32"/><rect x="0" y="74" width="37" height="6" fill="#f4f4f4"/><rect x="3" y="76" width="4" height="1.4" fill="#ccc"/><rect x="10" y="76" width="13" height="2" fill="#aaa"/><rect x="24" y="76" width="4" height="1.4" fill="#ccc"/></symbol>
</defs>

<!-- headers -->
<g fill="#3c0a69" stroke="#6a4b8f" stroke-width=".4">
<rect x="0" y="23" width="59" height="30" rx="2"/><rect x="116" y="23" width="58.5" height="30" rx="2"/><rect x="231.5" y="23" width="58.5" height="30" rx="2"/><rect x="347" y="23" width="58.5" height="30" rx="2"/><rect x="458" y="23" width="267" height="30" rx="2"/>
<rect x="0" y="221" width="406" height="30" rx="2"/><rect x="458" y="221" width="267" height="30" rx="2"/><rect x="784" y="221" width="93" height="30" rx="2"/><rect x="936" y="221" width="144" height="30" rx="2"/>
</g>
<g fill="#fff" font-size="10.2" font-weight="bold" text-anchor="middle">
<text x="29.5" y="41.5">Start</text><text x="145" y="41.5">Sign in</text><text x="260.5" y="41.5">Loading</text><text x="376" y="41.5">Navigation</text><text x="591.5" y="41.5">Filter</text>
<text x="203" y="239.5" textLength="128">Home screen - "Dashboard"</text><text x="591.5" y="239.5">"Projects"</text><text x="830.5" y="239.5">"Insights"</text><text x="1008" y="239.5">FAB</text>
</g>

<!-- screens -->
<g filter="url(#soft)">
<use href="#s-start" x="11" y="82" width="37" height="80"/><use href="#s-sign" x="127" y="82" width="37" height="80"/><use href="#s-load" x="242" y="82" width="37" height="80"/><use href="#s-nav" x="358" y="82" width="37" height="80"/>
<use href="#f1" x="469" y="82" width="37" height="80"/><use href="#f2" x="553" y="82" width="37" height="80"/><use href="#f3" x="598" y="82" width="37" height="80"/><use href="#f4" x="643" y="82" width="37" height="80"/><use href="#f5" x="688" y="82" width="37" height="80"/>

<use href="#s-home" x="11" y="280" width="37" height="80"/><use href="#s-long" x="11" y="372" width="37" height="258"/>
<use href="#s-home" x="101" y="372" width="37" height="80"/><use href="#s-home" x="146" y="372" width="37" height="80"/><use href="#s-dark" x="190" y="372" width="37" height="79"/>
<rect x="148" y="405" width="30" height="2.6" fill="#222"/><rect x="150" y="406" width="26" height=".7" fill="#888"/>
<rect x="106" y="425" width="13" height="14" fill="#fff" stroke="#ddd" stroke-width=".3"/><g fill="#aaa"><rect x="107" y="427" width="7" height=".6"/><rect x="107" y="430" width="7" height=".6"/><rect x="107" y="433" width="9" height=".6"/><rect x="107" y="436" width="6" height=".6"/></g>
<use href="#s-upd1" x="279" y="280" width="37" height="80"/><use href="#s-upd2" x="279" y="372" width="37" height="79"/><use href="#s-upd3" x="325" y="372" width="37" height="79"/><use href="#s-upddark" x="369" y="372" width="37" height="79"/>

<use href="#s-ring" x="56" y="530" width="37" height="79"/><use href="#s-rows" x="101" y="530" width="37" height="79"/><use href="#s-prof" x="146" y="530" width="36" height="79"/><use href="#s-cont" x="191" y="530" width="36" height="79"/>
<use href="#s-long3" x="191" y="618" width="36" height="210"/>

<use href="#s-proj" x="465" y="280" width="37" height="80"/><use href="#s-proj2" x="465" y="372" width="37" height="79"/><use href="#s-proj3" x="510" y="372" width="37" height="79"/><use href="#s-proj4" x="555" y="372" width="37" height="79"/>
<use href="#s-prof" x="645" y="372" width="36" height="79"/><use href="#s-cont" x="689" y="372" width="36" height="79"/><use href="#s-long2" x="689" y="458" width="36" height="168"/>

<use href="#s-ins1" x="785" y="280" width="36" height="80"/><use href="#s-ins2" x="840" y="280" width="36" height="80"/><use href="#s-ins3" x="840" y="372" width="36" height="79"/>
<use href="#s-fab1" x="936" y="280" width="36" height="80"/><use href="#s-fab2" x="990" y="280" width="37" height="80"/><use href="#s-fab3" x="1043" y="280" width="37" height="80"/>

<!-- hotspots -->
<g fill="#8fe3c4" opacity=".9">
<circle cx="503" cy="115" r="3"/><circle cx="627" cy="156" r="3"/><circle cx="672" cy="138" r="3"/>
<circle cx="38" cy="382" r="3"/><circle cx="112" cy="437" r="3"/><circle cx="165" cy="412" r="3"/><circle cx="29" cy="487" r="3"/><circle cx="29" cy="553" r="3"/><circle cx="63" cy="552" r="3"/><circle cx="119" cy="559" r="3"/><circle cx="163" cy="574" r="3"/>
<circle cx="298" cy="304" r="3"/><circle cx="298" cy="412" r="3"/><circle cx="358" cy="388" r="3"/>
<circle cx="483" cy="304" r="3"/><circle cx="483" cy="412" r="3"/><circle cx="537" cy="382" r="3"/><circle cx="586" cy="405" r="3"/><circle cx="662" cy="415" r="3"/>
<circle cx="813" cy="322" r="3"/><circle cx="858" cy="304" r="3"/>
</g>
</g>

<!-- badges -->
<g fill="#2fd29a"><circle cx="3.5" cy="85.5" r="3.3"/><circle cx="118.5" cy="85.5" r="3.3"/><circle cx="234.5" cy="85.5" r="3.3"/><circle cx="350" cy="85.5" r="3.3"/><circle cx="461" cy="85" r="3.3"/><circle cx="3.5" cy="283.5" r="3.3"/><circle cx="271.5" cy="283.5" r="3.3"/><circle cx="456.5" cy="283.5" r="3.3"/><circle cx="776.5" cy="283.5" r="3.3"/><circle cx="832" cy="283.5" r="3.3"/><circle cx="927.5" cy="283.5" r="3.3"/><circle cx="981" cy="283.5" r="3.3"/><circle cx="1035" cy="283.5" r="3.3"/></g>
<g fill="#fff" font-size="3.8" font-weight="bold" text-anchor="middle">
<text x="3.5" y="86.8">1</text><text x="118.5" y="86.8">2</text><text x="234.5" y="86.8">3</text><text x="350" y="86.8">4</text><text x="461" y="86.3">13</text><text x="3.5" y="284.8">5</text><text x="271.5" y="284.8">6</text><text x="456.5" y="284.8">7</text><text x="776.5" y="284.8">8</text><text x="832" y="284.8">9</text><text x="927.5" y="284.8">10</text><text x="981" y="284.8">11</text><text x="1035" y="284.8">12</text>
</g>

<!-- connectors -->
<g filter="url(#softc)" fill="none" stroke="#ff48dd" stroke-width="1.4" marker-end="url(#ah)" marker-start="url(#dot)">
<path d="M48 382.5H55.5V320.5H279"/>
<path d="M47 487.5H663.5V451"/>
<path d="M506 115.5H553"/>
<path d="M590 122H598"/><path d="M635 122H643"/><path d="M680 122H688"/>
<path d="M298 360V372"/><path d="M316 411H325"/><path d="M362 411H369"/>
<path d="M47 569H56"/><path d="M93 569H101"/><path d="M138 569H146"/><path d="M182 569H191"/>
<path d="M483 360V372"/><path d="M502 411H510"/><path d="M547 411H555"/><path d="M592 411H645"/><path d="M681 411H689"/>
<path d="M821 322H840"/><path d="M858 360V372"/>
<path d="M785 338H781V468.5H1007.5V360"/>
</g>
</svg>
</body></html>
